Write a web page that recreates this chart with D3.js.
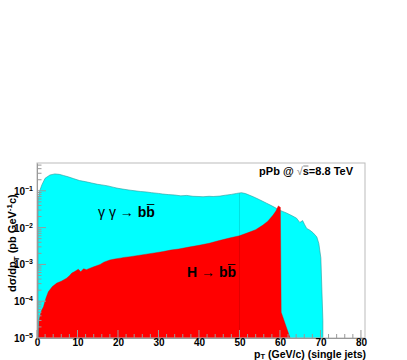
<!DOCTYPE html>
<html>
<head>
<meta charset="utf-8">
<script src="https://cdn.jsdelivr.net/npm/d3@7/dist/d3.min.js"></script>
<style>
  body { margin: 0; background: #fff; }
  text { font-family: "Liberation Sans", Arial, sans-serif; }
</style>
</head>
<body>
<div id="chart"></div>
<script>
// gamma gamma -> bb (cyan), pT in GeV/c, dsigma/dpT in pb/GeV
var gamPt  = [0.3, 0.3, 0.6, 1.2, 2.0, 3.2, 4.4, 5.5, 6.5, 7.7, 9.0, 10.5, 11.9, 13.5, 15.0, 16.0, 17.5, 19.0, 20.0, 21.5, 23.0, 24.2, 25.5, 27.0, 28.3, 30.0, 31.0, 32.4, 34.0, 35.5, 37.0, 38.5, 40.0, 41.0, 42.5, 43.5, 45.2, 46.5, 48.0, 49.3, 50.5, 51.5, 53.4, 55.0, 56.7, 58.0, 59.2, 60.5, 61.6, 63.0, 64.1, 64.9, 65.6, 66.1, 66.6, 67.4, 68.2, 69.1, 69.6, 70.1, 70.6, 70.6];
var gamVal = [1e-5, 0.056, 0.095, 0.145, 0.219, 0.269, 0.288, 0.280, 0.262, 0.240, 0.215, 0.190, 0.178, 0.163, 0.150, 0.145, 0.136, 0.124, 0.117, 0.110, 0.104, 0.100, 0.096, 0.093, 0.089, 0.085, 0.082, 0.079, 0.077, 0.073, 0.075, 0.071, 0.070, 0.069, 0.071, 0.070, 0.072, 0.076, 0.080, 0.085, 0.089, 0.084, 0.069, 0.057, 0.046, 0.039, 0.033, 0.028, 0.025, 0.021, 0.018, 0.0138, 0.0155, 0.0120, 0.0095, 0.0085, 0.0072, 0.0056, 0.0037, 0.0015, 0.00003, 1e-5];

// H -> bb (red)
var higPt  = [0.4, 0.5, 0.7, 1.1, 1.6, 2.2, 2.8, 3.8, 4.9, 6.0, 7.3, 8.0, 8.6, 9.3, 10.2, 10.8, 11.5, 12.2, 13.1, 14.0, 15.6, 16.5, 18.0, 19.2, 20.5, 21.5, 23.0, 25.0, 27.0, 29.0, 31.2, 33.0, 35.0, 37.5, 40.0, 42.5, 45.0, 47.5, 50.0, 52.0, 54.0, 55.8, 57.0, 58.3, 59.0, 59.6, 60.1, 60.3, 62.5];
var higVal = [1e-5, 2.8e-5, 3.8e-5, 5.5e-5, 7.1e-5, 1.2e-4, 1.8e-4, 2.5e-4, 3.1e-4, 3.5e-4, 4.2e-4, 4.9e-4, 5.8e-4, 6.4e-4, 7.4e-4, 6.3e-4, 7.6e-4, 7.2e-4, 7.9e-4, 8.6e-4, 1.0e-3, 1.15e-3, 1.32e-3, 1.4e-3, 1.48e-3, 1.55e-3, 1.62e-3, 1.75e-3, 1.9e-3, 2.05e-3, 2.24e-3, 2.45e-3, 2.63e-3, 2.95e-3, 3.3e-3, 3.75e-3, 4.45e-3, 5.2e-3, 6.0e-3, 7.2e-3, 8.8e-3, 0.0117, 0.0150, 0.0219, 0.0282, 0.0389, 0.0355, 5e-5, 1e-5];

var xTicks = [0, 10, 20, 30, 40, 50, 60, 70, 80];
var yExps  = [-5, -4, -3, -2, -1];

var width = 407, height = 360;
var svg = d3.select("#chart").append("svg")
  .attr("width", width).attr("height", height);

var x = d3.scaleLinear().domain([0, 81]).range([37, 365]);
var y = d3.scaleLog().domain([1e-5, 0.57]).range([338, 163]);

var gamma = gamPt.map(function(p, i) { return [p, gamVal[i]]; });
var higgs = higPt.map(function(p, i) { return [p, higVal[i]]; });

var area = d3.area()
  .x(function(d) { return x(d[0]); })
  .y0(y(1e-5))
  .y1(function(d) { return y(d[1]); });

svg.append("path").datum(gamma)
  .attr("d", area)
  .attr("fill", "#00ffff")
  .attr("stroke", "#2a9a9a")
  .attr("stroke-width", 0.6);

svg.append("path").datum(higgs)
  .attr("d", area)
  .attr("fill", "#ff0000")
  .attr("stroke", "#e00000")
  .attr("stroke-width", 0.4);

// faint line at 50
svg.append("line")
  .attr("x1", x(50)).attr("x2", x(50))
  .attr("y1", y(0.085)).attr("y2", y(1e-5))
  .attr("stroke", "rgba(0,0,0,0.12)").attr("stroke-width", 1);

// frame
svg.append("rect")
  .attr("x", x(0)).attr("y", 163)
  .attr("width", 365 - x(0)).attr("height", 338 - 163)
  .attr("fill", "none").attr("stroke", "#bbb").attr("stroke-width", 1);

// x axis ticks (inside, ROOT style)
var xAxis = d3.axisBottom(x).tickValues(xTicks).tickSize(0).tickPadding(0).tickFormat(d3.format("d"));
var gx = svg.append("g").attr("transform", "translate(0,338)").call(xAxis);
gx.select(".domain").attr("stroke", "#999");
gx.selectAll("text").attr("font-size", 10).attr("font-weight", "bold")
  .attr("fill", "#000").attr("y", 7.5).attr("dy", 0);

var xMinor = d3.range(0, 81, 2);
svg.append("g").selectAll("line").data(xMinor).enter().append("line")
  .attr("x1", function(d) { return x(d); }).attr("x2", function(d) { return x(d); })
  .attr("y1", 338)
  .attr("y2", function(d) { return d % 10 === 0 ? 330 : 334; })
  .attr("stroke", "#999");

// y axis
var gy = svg.append("g").attr("transform", "translate(" + x(0) + ",0)")
  .call(d3.axisLeft(y).tickValues([]).tickSize(0));
gy.select(".domain").attr("stroke", "#999");

var yMinor = [];
yExps.forEach(function(e) {
  for (var k = 1; k < 10; k++) {
    var v = k * Math.pow(10, e);
    if (v <= 0.57) yMinor.push({ v: v, major: k === 1 });
  }
});
svg.append("g").selectAll("line").data(yMinor).enter().append("line")
  .attr("x1", x(0))
  .attr("x2", function(d) { return x(0) + (d.major ? 9 : 4.5); })
  .attr("y1", function(d) { return y(d.v); }).attr("y2", function(d) { return y(d.v); })
  .attr("stroke", "#999");

var yl = svg.append("g").selectAll("text").data(yExps).enter().append("text")
  .attr("x", 33)
  .attr("y", function(d) { return y(Math.pow(10, d)) + 4; })
  .attr("text-anchor", "end")
  .attr("font-size", 10).attr("font-weight", "bold");
yl.append("tspan").text("10");
yl.append("tspan").attr("dy", -4).attr("font-size", 7).text(function(d) { return "\u2212" + (-d); });

// axis titles
svg.append("text")
  .attr("transform", "translate(16,292) rotate(-90)")
  .attr("font-size", 11).attr("font-weight", "bold")
  .call(function(t) {
    t.append("tspan").text("d\u03c3/dp");
    t.append("tspan").attr("dy", 3).attr("font-size", 8).text("T");
    t.append("tspan").attr("dy", -3).text(" (pb GeV");
    t.append("tspan").attr("dy", -4).attr("font-size", 8).text("-1");
    t.append("tspan").attr("dy", 4).text("c)");
  });

svg.append("text")
  .attr("x", 366).attr("y", 357.5)
  .attr("text-anchor", "end")
  .attr("font-size", 10.5).attr("font-weight", "bold")
  .call(function(t) {
    t.append("tspan").text("p");
    t.append("tspan").attr("dy", 1.5).attr("font-size", 7.5).text("T");
    t.append("tspan").attr("dy", -1.5).text(" (GeV/c) (single jets)");
  });

// overline over one character of a text node
function overline(sel, idx, color, gap) {
  var node = sel.node();
  var box = node.getExtentOfChar(idx);
  svg.append("line")
    .attr("x1", box.x + 0.5).attr("x2", box.x + box.width - 0.5)
    .attr("y1", box.y + gap).attr("y2", box.y + gap)
    .attr("stroke", color).attr("stroke-width", 0.9);
}

// labels
var energy = svg.append("text")
  .attr("x", 353).attr("y", 175)
  .attr("text-anchor", "end")
  .attr("font-size", 11).attr("font-weight", "bold")
  .call(function(t) {
    t.append("tspan").text("pPb @ ");
    t.append("tspan").attr("font-weight", "normal").attr("fill", "#777").text("\u221a");
    t.append("tspan").text("s=8.8 TeV");
  });
overline(energy, 7, "#777", 1);

var gg = svg.append("text")
  .attr("x", 98).attr("y", 217)
  .attr("font-size", 14)
  .call(function(t) {
    t.append("tspan").text("\u03b3 \u03b3 \u2192 ");
    t.append("tspan").attr("font-weight", "bold").text("bb");
  });
overline(gg, 7, "#000", 0.5);

var hb = svg.append("text")
  .attr("x", 187).attr("y", 277)
  .attr("font-size", 14)
  .call(function(t) {
    t.append("tspan").attr("font-weight", "bold").text("H ");
    t.append("tspan").text("\u2192 ");
    t.append("tspan").attr("font-weight", "bold").text("bb");
  });
overline(hb, 5, "#000", 0.5);
</script>
</body>
</html>
